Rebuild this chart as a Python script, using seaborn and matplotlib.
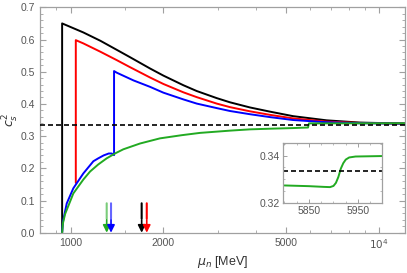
import numpy as np
import pandas as pd
import seaborn as sns
from matplotlib import pyplot as plt
from matplotlib.ticker import FixedLocator, NullFormatter, MultipleLocator

# curves: mu_n [MeV] and c_s^2
black_mu = [939, 939, 1100, 1250, 1412, 1560, 1811, 2000, 2323, 2567, 2980, 3290, 3820, 4436, 5270, 6775, 8690, 12160]
black_cs = [0.0, 0.650, 0.622, 0.596, 0.568, 0.545, 0.510, 0.488, 0.458, 0.440, 0.418, 0.405, 0.389, 0.376, 0.362, 0.349, 0.342, 0.339]

red_mu = [1040, 1040, 1100, 1250, 1412, 1560, 1811, 2000, 2323, 2567, 2980, 3290, 3820, 4436, 5270, 6775, 8690, 12160]
red_cs = [0.155, 0.598, 0.588, 0.562, 0.536, 0.514, 0.482, 0.462, 0.436, 0.421, 0.401, 0.390, 0.377, 0.366, 0.355, 0.345, 0.341, 0.339]

blue_mu = [939, 945, 972, 1021, 1100, 1186, 1230, 1280, 1330, 1360, 1384, 1384, 1412, 1600, 1811, 2000, 2323, 2567, 2980, 3290, 3820, 4436, 5270, 6775, 8690, 12160]
blue_cs = [0.0, 0.035, 0.091, 0.138, 0.184, 0.222, 0.231, 0.240, 0.246, 0.246, 0.241, 0.502, 0.497, 0.473, 0.453, 0.435, 0.414, 0.401, 0.387, 0.378, 0.368, 0.359, 0.350, 0.343, 0.340, 0.339]

green_mu = [939, 945, 960, 1021, 1100, 1157, 1230, 1310, 1400, 1483, 1680, 1950, 2300, 2630, 3290, 3820, 4436, 5270, 5895, 5913, 5935, 12160]
green_cs = [0.0, 0.030, 0.058, 0.122, 0.165, 0.190, 0.212, 0.231, 0.247, 0.259, 0.277, 0.293, 0.303, 0.310, 0.317, 0.321, 0.323, 0.325, 0.3267, 0.333, 0.3395, 0.340]

# zoomed region of the green curve
inset_mu = [5800, 5850, 5880, 5893, 5900, 5905, 5910, 5915, 5920, 5925, 5932, 5945, 6000]
inset_cs = [0.3274, 0.3271, 0.3268, 0.3267, 0.3272, 0.3285, 0.3310, 0.3345, 0.3368, 0.3383, 0.3392, 0.3396, 0.3398]

# arrows marking transition points
arrow_mu = [1310, 1353, 1701, 1767]
arrow_colors = ["#22aa22", "#0000ff", "#000000", "#ff0000"]
arrow_alpha = [0.6, 0.6, 1.0, 1.0]

sns.set_style("ticks")
plt.rcParams["font.family"] = ["Liberation Sans", "DejaVu Sans"]
plt.rcParams["mathtext.fontset"] = "dejavusans"

gray = "#555555"
frame = "#a0a0a0"

fig = plt.figure(figsize=(4.07, 2.73), dpi=100)
ax = fig.add_axes([0.0983, 0.1476, 0.8967, 0.8256])

curves = [(black_mu, black_cs, "#000000"), (red_mu, red_cs, "#ff0000"),
          (blue_mu, blue_cs, "#0000ff"), (green_mu, green_cs, "#22aa22")]
for mu, cs, col in curves:
    sns.lineplot(x=mu, y=cs, sort=False, estimator=None, color=col, lw=1.4, ax=ax)

ax.axhline(1 / 3, color="black", ls=(0, (3, 1.8)), lw=1.2, zorder=5)

for mu, col, a in zip(arrow_mu, arrow_colors, arrow_alpha):
    ax.annotate("", xy=(mu, 0.035), xytext=(mu, 0.1),
                arrowprops=dict(arrowstyle="-", color=col, lw=1.5, alpha=a))
    ax.annotate("", xy=(mu, 0.0), xytext=(mu, 0.04),
                arrowprops=dict(arrowstyle="-|>", color=col, lw=1.2, mutation_scale=11,
                                shrinkA=0, shrinkB=0))

ax.set_xscale("log")
ax.set_xlim(796, 12160)
ax.set_ylim(0, 0.7)
ax.set_xticks([1000, 2000, 5000, 10000])
ax.set_xticklabels(["1000", "2000", "5000", "$10^4$"])
ax.xaxis.set_minor_locator(FixedLocator([900, 1500, 3000, 4000, 6000, 7000, 8000, 9000]))
ax.xaxis.set_minor_formatter(NullFormatter())
ax.yaxis.set_major_locator(MultipleLocator(0.1))
ax.yaxis.set_minor_locator(MultipleLocator(0.02))
ax.yaxis.set_major_formatter(plt.FuncFormatter(lambda v, p: f"{v:.1f}"))

ax.tick_params(which="both", direction="in", top=True, right=True, colors=frame,
               labelcolor=gray, labelsize=7.5)
ax.tick_params(which="major", length=4, width=0.8)
ax.tick_params(which="minor", length=2, width=0.6)
for s in ax.spines.values():
    s.set_color(frame)
    s.set_linewidth(0.9)

ax.set_xlabel(r"$\mu_n$ [MeV]", fontsize=9, color="#333333", labelpad=2)
ax.set_ylabel(r"$c_s^2$", fontsize=9, color="#333333", labelpad=0)

# inset
axi = fig.add_axes([0.6953, 0.2564, 0.2433, 0.2198])
sns.lineplot(x=inset_mu, y=inset_cs, sort=False, estimator=None, color="#22aa22", lw=1.4, ax=axi)
axi.axhline(1 / 3, color="black", ls=(0, (3, 1.8)), lw=1.2)
axi.set_xlim(5797, 5999)
axi.set_ylim(0.32, 0.3453)
axi.set_xticks([5850, 5950])
axi.xaxis.set_minor_locator(FixedLocator([5800, 5825, 5875, 5900, 5925, 5975]))
axi.set_yticks([0.32, 0.34])
axi.yaxis.set_minor_locator(MultipleLocator(0.005))
axi.set_yticklabels(["0.32", "0.34"])
axi.tick_params(which="both", direction="in", top=True, right=True, colors=frame,
                labelcolor=gray, labelsize=7.5, pad=2)
axi.tick_params(which="major", length=3, width=0.7)
axi.tick_params(which="minor", length=1.5, width=0.5)
for s in axi.spines.values():
    s.set_color(frame)
    s.set_linewidth(0.9)
axi.set_xlabel("")
axi.set_ylabel("")

fig.savefig("out.png", dpi=100)
